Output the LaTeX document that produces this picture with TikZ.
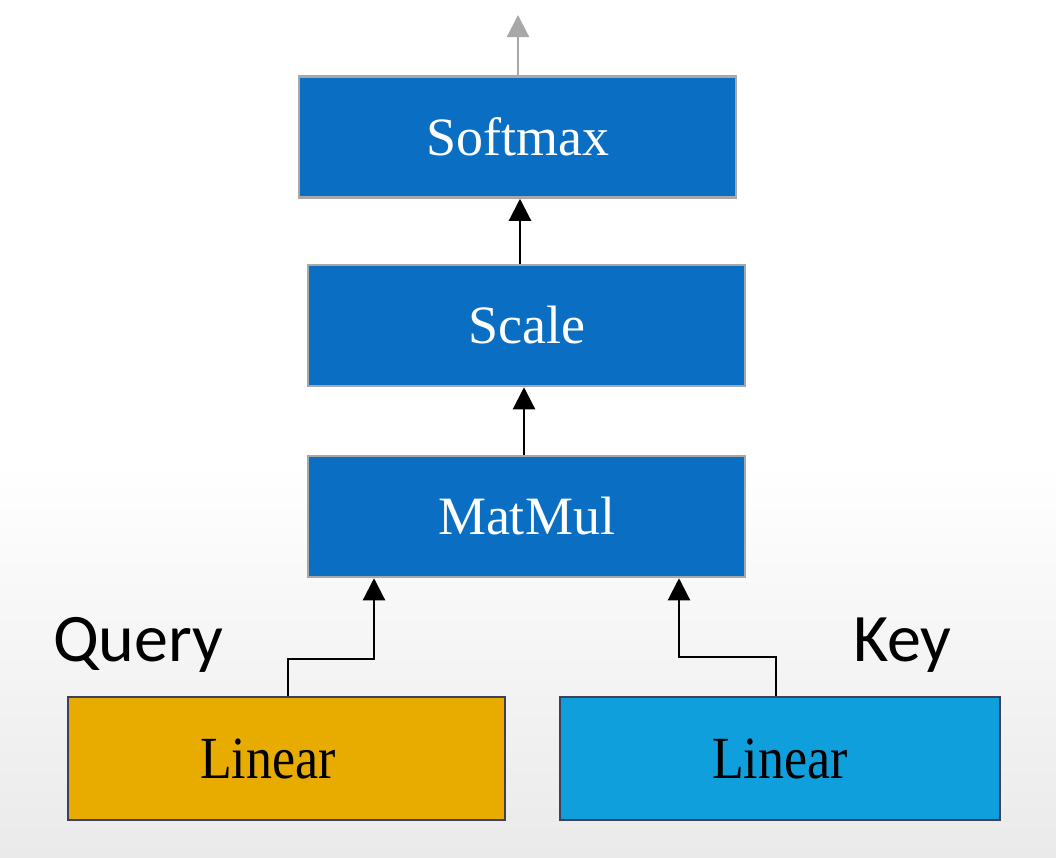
\documentclass[tikz,border=0pt]{standalone}
\usepackage{fontspec}
\setmainfont{Liberation Serif}
\newfontfamily\calfont{Carlito}
\usetikzlibrary{arrows.meta}
\definecolor{boxblue}{HTML}{0A6FC2}
\definecolor{gold}{HTML}{E8AC00}
\definecolor{skyblue}{HTML}{0E9FDC}
\definecolor{edgegray}{HTML}{A8A8A8}
\definecolor{edgedark}{HTML}{3C4058}
\definecolor{bgbottom}{HTML}{EAEAEA}
\tikzset{
  x=1pt, y=-1pt,
  bluebox/.style={draw=edgegray, line width=2.5pt, fill=boxblue, text=white,
    minimum width=437pt, minimum height=121pt, inner sep=0pt,
    font=\fontsize{54}{60}\selectfont},
  linbox/.style={draw=edgedark, line width=2.5pt, minimum width=437pt,
    minimum height=123pt, inner sep=0pt, text=black,
    font=\fontsize{52}{60}\selectfont},
  arr/.style={draw=black, line width=2.2pt, -{Triangle[width=22pt,length=22pt]}},
  garr/.style={draw=edgegray, line width=2.2pt, -{Triangle[width=22pt,length=22pt]}},
  lbl/.style={font=\calfont\fontsize{68}{76}\selectfont, text=black, inner sep=0pt}
}
\begin{document}
\begin{tikzpicture}
\useasboundingbox (0,0) rectangle (1056,857);
\fill[white] (0,0) rectangle (1056,857);
\shade[top color=white, bottom color=bgbottom] (0,460) rectangle (1056,857);

\node[bluebox] (softmax) at (517.5,137) {Softmax};
\node[bluebox] (scale) at (526.5,325.5) {Scale};
\node[bluebox] (matmul) at (526.5,516.5) {MatMul};
\node[linbox, fill=gold, text width=437pt, align=left] (linq) at (286.5,758.5) {\hspace*{132pt}\scalebox{1}[1.15]{Linear}};
\node[linbox, fill=skyblue, minimum width=440pt] (link) at (780,758.5) {\raisebox{-4pt}{\scalebox{1}[1.15]{Linear}}};

\node[lbl, anchor=west] (query) at (53,645) {Query};
\node[lbl, anchor=west] (key) at (853,645) {Key};

\coordinate (out) at (518,15);
\coordinate (qbend) at (374,659);
\coordinate (kbend) at (679,657);

\draw[garr] (softmax.north -| out) -- (out);
\draw[arr] (scale.north -| 520,0) -- (softmax.south -| 520,0);
\draw[arr] (matmul.north -| 524,0) -- (scale.south -| 524,0);
\draw[arr] (linq.north -| 288,0) |- (qbend) -- (matmul.south -| qbend);
\draw[arr] (link.north -| 776,0) |- (kbend) -- (matmul.south -| kbend);
\end{tikzpicture}
\end{document}
